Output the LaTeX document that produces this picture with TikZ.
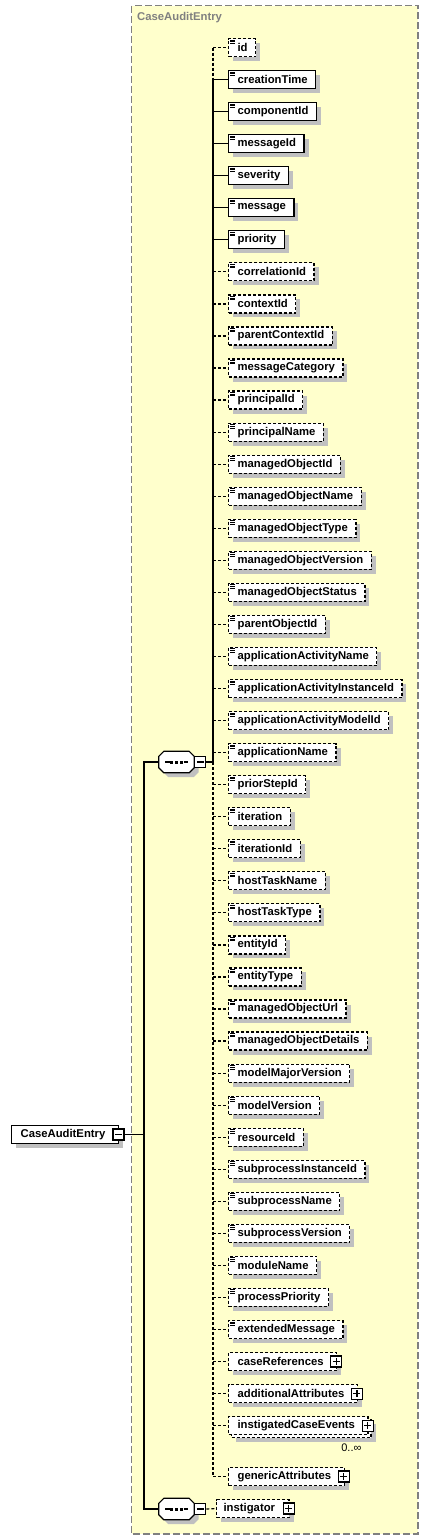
\documentclass[tikz,border=0pt]{standalone}
\usepackage{fontspec}
\setmainfont{Liberation Sans}
\usetikzlibrary{shadows,calc}
\definecolor{bgy}{RGB}{255,255,204}
\definecolor{frm}{RGB}{128,128,128}
\definecolor{shd}{RGB}{192,192,192}
\newcommand\octapath[2]{([shift={(#2+5,#2)}]#1.north west) -- ([shift={(#2-5,#2)}]#1.north east) -- ([shift={(#2,#2+5)}]#1.north east) -- ([shift={(#2,#2-5)}]#1.south east) -- ([shift={(#2-5,#2)}]#1.south east) -- ([shift={(#2+5,#2)}]#1.south west) -- ([shift={(#2,#2-5)}]#1.south west) -- ([shift={(#2,#2+5)}]#1.north west) -- cycle}
\begin{document}
\begin{tikzpicture}[x=1pt,y=-1pt,
  every node/.style={font=\bfseries\fontsize{11.3}{13}\selectfont},
  shad/.style={drop shadow={shadow xshift=4.5pt,shadow yshift=-4.5pt,fill=shd,opacity=1}},
  ebase/.style={draw,fill=white,line width=1.2pt,minimum height=18pt,inner xsep=0pt,inner ysep=0pt,anchor=west},
  reqbox/.style={ebase,shad},
  optbox/.style={ebase,dash pattern=on 3pt off 2pt,shad},
  optfront/.style={ebase,dash pattern=on 3pt off 2pt},
  reqline/.style={line width=1.2pt},
  optline/.style={line width=1.2pt,dash pattern=on 3pt off 2pt},
  pmbox/.style={draw,fill=white,line width=1.2pt,minimum size=11pt,inner sep=0pt},
  pmline/.style={line width=1.2pt},
  seqbox/.style={minimum width=35pt,minimum height=21pt,inner sep=0pt},
  iconline/.style={line width=0.8pt}
]
\useasboundingbox (0,0) rectangle (428,1540);
% outer frame
\draw[frm,fill=bgy,line width=1.3pt,dash pattern=on 7pt off 3pt] (131.5,5.5) rectangle (418,1534);
\node[anchor=west,text=frm,inner sep=0pt] (title) at (137,18) {CaseAuditEntry};

% simple elements
\foreach \k/\n/\t in {0/id/opt,1/creationTime/req,2/componentId/req,3/messageId/req,4/severity/req,
  5/message/req,6/priority/req,7/correlationId/opt,8/contextId/opt,9/parentContextId/opt,
  10/messageCategory/opt,11/principalId/opt,12/principalName/opt,13/managedObjectId/opt,
  14/managedObjectName/opt,15/managedObjectType/opt,16/managedObjectVersion/opt,
  17/managedObjectStatus/opt,18/parentObjectId/opt,19/applicationActivityName/opt,
  20/applicationActivityInstanceId/opt,21/applicationActivityModelId/opt,22/applicationName/opt,
  23/priorStepId/opt,24/iteration/opt,25/iterationId/opt,26/hostTaskName/opt,27/hostTaskType/opt,
  28/entityId/opt,29/entityType/opt,30/managedObjectUrl/opt,31/managedObjectDetails/opt,
  32/modelMajorVersion/opt,33/modelVersion/opt,34/resourceId/opt,35/subprocessInstanceId/opt,
  36/subprocessName/opt,37/subprocessVersion/opt,38/moduleName/opt,39/processPriority/opt,
  40/extendedMessage/opt}{
  \node[\t box] (\n) at (228,{47.5+32.05*\k}) {\hspace*{9pt}\n\hspace*{8pt}};
  \foreach \dy in {2,3.7,5.4}{
    \draw[iconline] ([shift={(2,\dy)}]\n.north west) -- ++(5,0);
  }
}

% complex elements
\foreach \k/\n in {41/caseReferences,42/additionalAttributes}{
  \node[optbox] (\n) at (228,{47.5+32.05*\k}) {\hspace*{9pt}\n\hspace*{13pt}};
  \node[pmbox] (\n-p) at ([xshift=-1pt]\n.east) {};
  \draw[pmline] ([xshift=-3.5pt]\n-p.center) -- ([xshift=3.5pt]\n-p.center);
  \draw[pmline] ([shift={(0,-3.5)}]\n-p.center) -- ([shift={(0,3.5)}]\n-p.center);
}
% multiple element
\node[optbox] (ice-back) at (231,{47.5+32.05*43+3}) {\hspace*{9pt}instigatedCaseEvents\hspace*{13pt}};
\node[optfront] (instigatedCaseEvents) at (228,{47.5+32.05*43}) {\hspace*{9pt}instigatedCaseEvents\hspace*{13pt}};
\node[pmbox] (ice-p) at ([xshift=-1pt]instigatedCaseEvents.east) {};
\draw[pmline] ([xshift=-3.5pt]ice-p.center) -- ([xshift=3.5pt]ice-p.center);
\draw[pmline] ([shift={(0,-3.5)}]ice-p.center) -- ([shift={(0,3.5)}]ice-p.center);
\node[anchor=north east,inner sep=0pt,font=\fontsize{11}{13}\selectfont] (mult) at ([shift={(-10,5)}]ice-back.south east) {0..∞};

\node[optbox] (genericAttributes) at (228,1476.5) {\hspace*{9pt}genericAttributes\hspace*{13pt}};
\node[pmbox] (ga-p) at ([xshift=-1pt]genericAttributes.east) {};
\draw[pmline] ([xshift=-3.5pt]ga-p.center) -- ([xshift=3.5pt]ga-p.center);
\draw[pmline] ([shift={(0,-3.5)}]ga-p.center) -- ([shift={(0,3.5)}]ga-p.center);

% root
\node[reqbox] (root) at (11,1134.5) {\hspace*{9pt}CaseAuditEntry\hspace*{13pt}};
\node[pmbox] (rootm) at ([xshift=-0.5pt]root.east) {};
\draw[pmline] ([xshift=-3.5pt]rootm.center) -- ([xshift=3.5pt]rootm.center);

% sequences
\foreach \s/\yy in {seq1/762,seq2/1509}{
  \node[seqbox] (\s) at (176.5,\yy) {};
  \fill[shd] \octapath{\s}{4.5};
  \draw[line width=1.2pt,fill=white] \octapath{\s}{0};
  \draw[line width=1.2pt] ([xshift=-11.5pt]\s.center) -- ([xshift=-7pt]\s.center);
  \draw[line width=1.2pt] ([xshift=7pt]\s.center) -- ([xshift=11.5pt]\s.center);
  \foreach \d in {-5,0,5}{\fill ([shift={(\d-1.5,-1.5)}]\s.center) rectangle ++(3,3);}
}
\node[pmbox,anchor=west] (m1) at (seq1.east) {};
\draw[pmline] ([xshift=-3.5pt]m1.center) -- ([xshift=3.5pt]m1.center);
\node[pmbox,anchor=west] (m2) at (seq2.east) {};
\draw[pmline] ([xshift=-3.5pt]m2.center) -- ([xshift=3.5pt]m2.center);

\node[optbox] (instigator) at (216,1508.5) {\hspace*{7pt}instigator\hspace*{14pt}};
\node[pmbox] (ins-p) at ([xshift=-1pt]instigator.east) {};
\draw[pmline] ([xshift=-3.5pt]ins-p.center) -- ([xshift=3.5pt]ins-p.center);
\draw[pmline] ([shift={(0,-3.5)}]ins-p.center) -- ([shift={(0,3.5)}]ins-p.center);

% trunk connectors
\coordinate (trunk) at (144,0);
\draw[reqline] (seq1.west) -- (trunk |- seq1.west) -- (trunk |- seq2.west) -- (seq2.west);
\draw[reqline] (rootm.east) -- (trunk |- rootm.east);
\draw[optline] (m2.east) -- (instigator.west);

% branch of sequence 1
\coordinate (br) at (213,0);
\draw[reqline] (m1.east) -- (br |- m1.east);
\draw[optline] (br |- id.west) -- (br |- creationTime.west);
\draw[reqline] (br |- creationTime.west) -- (br |- m1.east);
\draw[optline] (br |- m1.east) -- (br |- genericAttributes.west);

\foreach \n/\t in {id/opt,creationTime/req,componentId/req,messageId/req,severity/req,
  message/req,priority/req,correlationId/opt,contextId/opt,parentContextId/opt,
  messageCategory/opt,principalId/opt,principalName/opt,managedObjectId/opt,
  managedObjectName/opt,managedObjectType/opt,managedObjectVersion/opt,
  managedObjectStatus/opt,parentObjectId/opt,applicationActivityName/opt,
  applicationActivityInstanceId/opt,applicationActivityModelId/opt,applicationName/opt,
  priorStepId/opt,iteration/opt,iterationId/opt,hostTaskName/opt,hostTaskType/opt,
  entityId/opt,entityType/opt,managedObjectUrl/opt,managedObjectDetails/opt,
  modelMajorVersion/opt,modelVersion/opt,resourceId/opt,subprocessInstanceId/opt,
  subprocessName/opt,subprocessVersion/opt,moduleName/opt,processPriority/opt,
  extendedMessage/opt,caseReferences/opt,additionalAttributes/opt,
  instigatedCaseEvents/opt,genericAttributes/opt}{
  \draw[\t line] (br |- \n.west) -- (\n.west);
}
\end{tikzpicture}
\end{document}
